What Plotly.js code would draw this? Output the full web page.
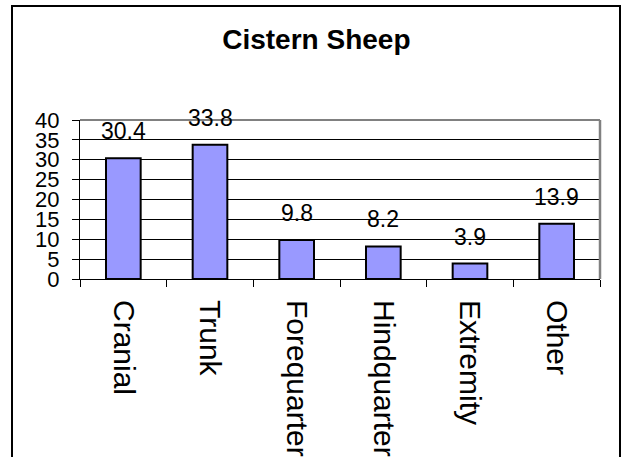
<!DOCTYPE html>
<html>
<head>
<meta charset="utf-8">
<script src="https://cdn.plot.ly/plotly-3.0.1.min.js"></script>
<style>html,body{margin:0;padding:0;background:#fff;}#chart{width:624px;height:457px;}</style>
</head>
<body>
<div id="chart"></div>
<script>
const categories = ["Cranial", "Trunk", "Forequarter", "Hindquarter", "Extremity", "Other"];
const values = [30.4, 33.8, 9.8, 8.2, 3.9, 13.9];
const yTicks = [0, 5, 10, 15, 20, 25, 30, 35, 40];
const chartTitle = "Cistern Sheep";

const font = "Liberation Sans, Arial, sans-serif";

const trace = {
  type: "bar",
  x: categories,
  y: values,
  marker: {color: "#9999FF", line: {color: "#000000", width: 2}},
  hoverinfo: "none"
};

const annotations = categories.map((c, i) => ({
  x: c, y: values[i], xref: "x", yref: "y",
  text: values[i].toFixed(1), showarrow: false,
  yanchor: "bottom", yshift: 12,
  font: {family: font, size: 23, color: "#000"}
}));

// plot area pixel geometry: x 80..600, y 120..279
const L = 80, R = 600, T = 120, B = 279;
const px = v => (v - L) / (R - L);
const py = v => (B - v) / (B - T);

const layout = {
  width: 624, height: 457,
  margin: {l: L, r: 624 - R, t: T, b: 457 - B, pad: 0},
  paper_bgcolor: "#ffffff", plot_bgcolor: "#ffffff",
  showlegend: false,
  bargap: 0.6,
  title: {
    text: "<b>" + chartTitle + "</b>",
    font: {family: font, size: 28, color: "#000"},
    xref: "container", x: 0.507, xanchor: "center",
    yref: "container", y: 1 - 39 / 457, yanchor: "middle"
  },
  xaxis: {
    type: "category",
    tickangle: 90,
    tickfont: {family: font, size: 30, color: "#000"},
    ticks: "outside", tickson: "boundaries", ticklen: 7, tickcolor: "#000", tickwidth: 1,
    showline: true, linecolor: "#000", linewidth: 1,
    showgrid: false, zeroline: false,
    ticklabelstandoff: 14,
    fixedrange: true
  },
  yaxis: {
    range: [0, 40],
    tickvals: yTicks,
    ticktext: yTicks.map(String),
    tickfont: {family: font, size: 22, color: "#000"},
    ticks: "outside", ticklen: 7, tickcolor: "#000", tickwidth: 1,
    showline: true, linecolor: "#000", linewidth: 1,
    showgrid: true, gridcolor: "#000", gridwidth: 1,
    zeroline: false,
    ticklabelstandoff: 8,
    fixedrange: true
  },
  annotations: annotations,
  shapes: [
    {type: "line", xref: "paper", yref: "paper", x0: 0, x1: 1, y0: 1, y1: 1, line: {color: "#808080", width: 2}},
    {type: "line", xref: "paper", yref: "paper", x0: 1, x1: 1, y0: 0, y1: 1, line: {color: "#808080", width: 2.5}},
    {type: "rect", xref: "paper", yref: "paper", x0: px(12), x1: px(620), y0: py(475), y1: py(6), line: {color: "#000", width: 2}, fillcolor: "rgba(0,0,0,0)"}
  ]
};

Plotly.newPlot("chart", [trace], layout, {displayModeBar: false, staticPlot: true});
</script>
</body>
</html>
